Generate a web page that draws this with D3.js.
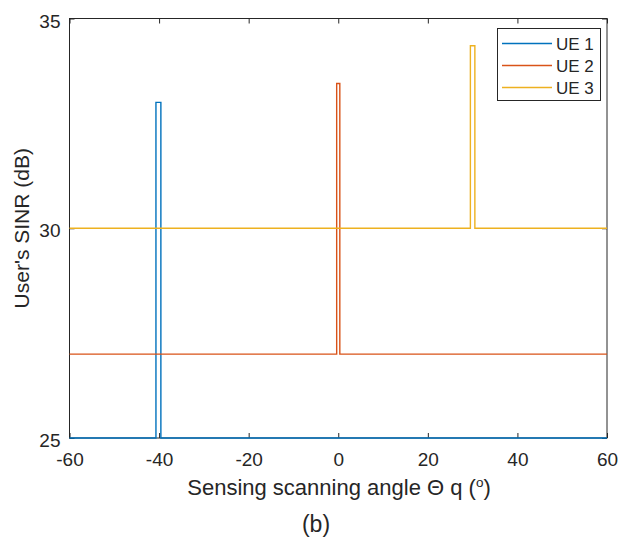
<!DOCTYPE html>
<html><head><meta charset="utf-8">
<script src="https://cdn.jsdelivr.net/npm/d3@7/dist/d3.min.js"></script>
<style>body{margin:0;background:#fff}svg{display:block}text{font-family:"Liberation Sans",Arial,sans-serif;fill:#262626}</style>
</head><body><svg id="c" width="628" height="538"></svg>
<script>
const seriesNames = ["UE 1","UE 2","UE 3"];
const colors = ["#0072BD","#D95319","#EDB120"];
const ue1Angle = [-60,-40.7,-40.7,-39.6,-39.6,60];
const ue1SINR  = [25,25,33,33,25,25];
const ue2Angle = [-60,-0.35,-0.35,0.35,0.35,60];
const ue2SINR  = [27,27,33.45,33.45,27,27];
const ue3Angle = [-60,29.5,29.5,30.5,30.5,60];
const ue3SINR  = [30,30,34.35,34.35,30,30];
const xTicks = [-60,-40,-20,0,20,40,60];
const yTicks = [25,30,35];

const svg = d3.select("#c");
const L=69.5,R=607,T=18.5,B=438;
const x = d3.scaleLinear().domain([-60,60]).range([L,R]);
const y = d3.scaleLinear().domain([25,35]).range([B,T]);
const axCol="#262626";
const fmt = d=>String(d);

svg.append("rect").attr("x",L).attr("y",T).attr("width",R-L).attr("height",B-T)
  .attr("fill","none").attr("stroke",axCol).attr("stroke-width",1);

const xb = svg.append("g").attr("transform",`translate(0,${B})`)
  .call(d3.axisBottom(x).tickValues(xTicks).tickSize(-5).tickPadding(15).tickFormat(fmt));
const xt = svg.append("g").attr("transform",`translate(0,${T})`)
  .call(d3.axisTop(x).tickValues(xTicks).tickSize(-5).tickFormat(""));
const yl = svg.append("g").attr("transform",`translate(${L},0)`)
  .call(d3.axisLeft(y).tickValues(yTicks).tickSize(-5).tickPadding(9).tickFormat(fmt));
const yr = svg.append("g").attr("transform",`translate(${R},0)`)
  .call(d3.axisRight(y).tickValues(yTicks).tickSize(-5).tickFormat(""));
[xb,xt,yl,yr].forEach(g=>{
  g.select(".domain").remove();
  g.selectAll("line").attr("stroke",axCol);
  g.selectAll("text").attr("font-size",19).attr("fill",axCol).style("font-family","'Liberation Sans',Arial,sans-serif");
});
xb.selectAll("text").attr("dy","0.71em");
yl.selectAll("text").attr("dy","0.45em");

const data = [[ue1Angle,ue1SINR],[ue2Angle,ue2SINR],[ue3Angle,ue3SINR]];
const line = d3.line().x(d=>x(d[0])).y(d=>y(d[1]));
data.forEach((s,i)=>{
  const pts = s[0].map((a,j)=>[a,s[1][j]]);
  svg.append("path").datum(pts).attr("d",line).attr("fill","none")
    .attr("stroke",colors[i]).attr("stroke-width",1.4);
});

const xl = svg.append("text").attr("x",339).attr("y",495).attr("text-anchor","middle")
  .attr("font-size",22);
xl.append("tspan").text("Sensing scanning angle \u0398 q (");
xl.append("tspan").attr("font-size",13.5).attr("dy",-8).text("o");
xl.append("tspan").attr("dy",8).text(")");
svg.append("text").attr("transform",`translate(29,${(T+B)/2}) rotate(-90)`).attr("text-anchor","middle")
  .attr("font-size",21).text("User's SINR (dB)");
svg.append("text").attr("x",316).attr("y",532).attr("text-anchor","middle")
  .attr("font-size",23).text("(b)");

const lg = svg.append("g");
lg.append("rect").attr("x",497.5).attr("y",28.5).attr("width",103).attr("height",72)
  .attr("fill","#fff").attr("stroke",axCol).attr("stroke-width",1);
seriesNames.forEach((n,i)=>{
  const yy = 43.5 + i*22;
  lg.append("line").attr("x1",502).attr("x2",552).attr("y1",yy).attr("y2",yy)
    .attr("stroke",colors[i]).attr("stroke-width",1.4);
  lg.append("text").attr("x",556).attr("y",yy+6).attr("font-size",17).text(n);
});
</script></body></html>
